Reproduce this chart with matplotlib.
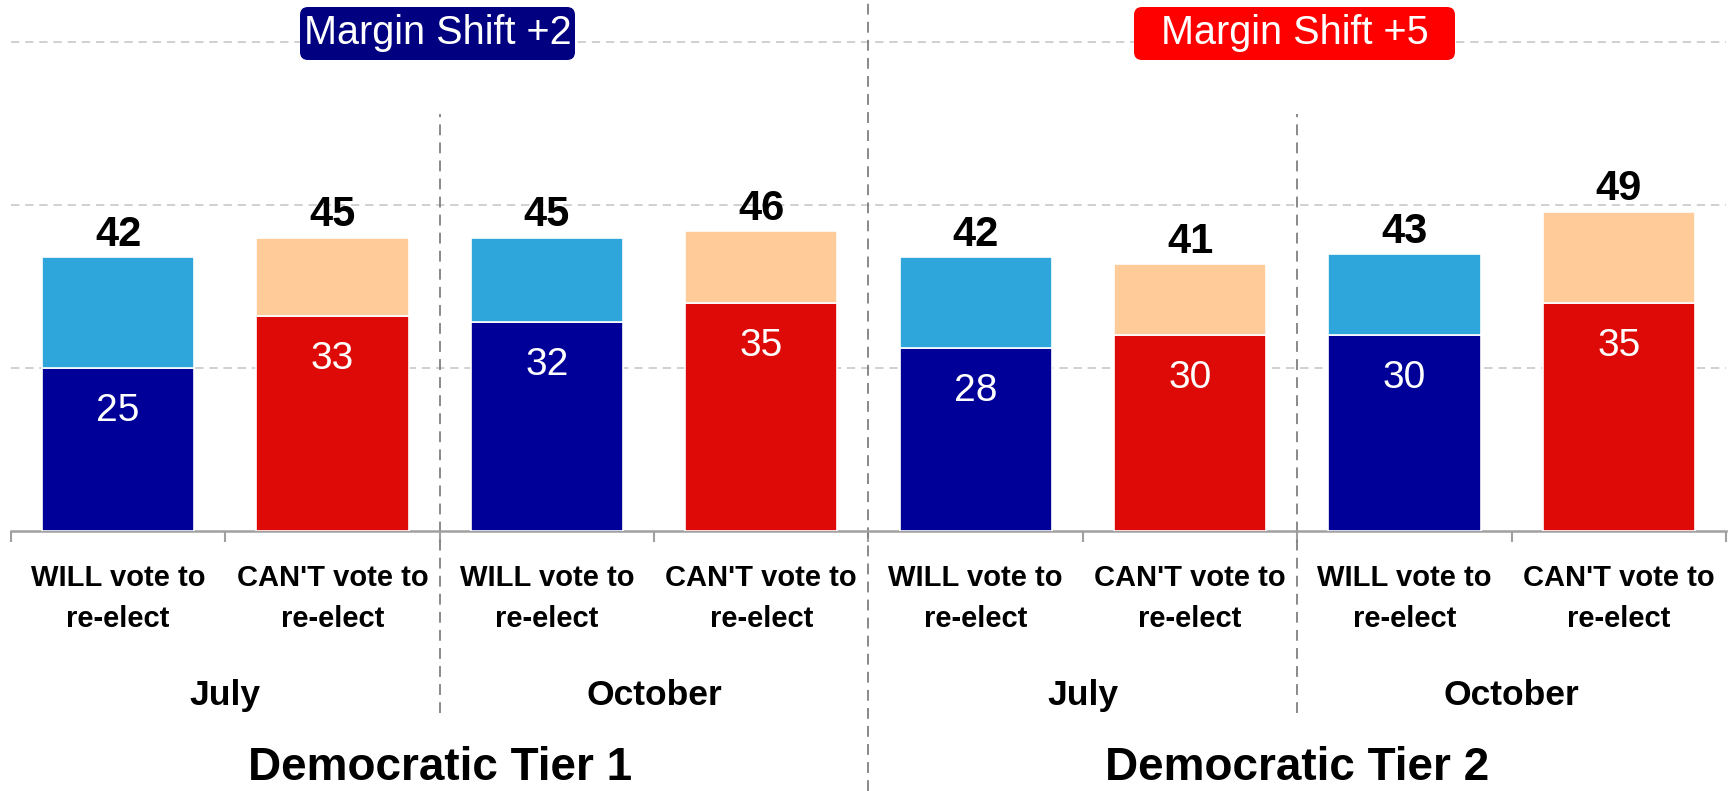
import matplotlib
matplotlib.use("Agg")
import matplotlib.pyplot as plt
from matplotlib.patches import FancyBboxPatch
from matplotlib.transforms import blended_transform_factory

plt.rcParams['font.family'] = ['Liberation Sans', 'DejaVu Sans']

# ---- data ----
categories = ["WILL vote to\nre-elect", "CAN'T vote to\nre-elect"] * 4
months = ["July", "October", "July", "October"]
groups = ["Democratic Tier 1", "Democratic Tier 2"]
strong = [25, 33, 32, 35, 28, 30, 30, 35]
total = [42, 45, 45, 46, 42, 41, 42.5, 49]
margin_labels = ["Margin Shift +2", "Margin Shift +5"]

# ---- styles ----
dark = ["#000099", "#DD0A08"]
light = ["#2EA6DC", "#FECB99"]
box_colors = ["#000080", "#FF0000"]

fig = plt.figure(figsize=(17.33, 7.91), dpi=100)
ax = fig.add_axes([11 / 1733, 260 / 791, 1715 / 1733, 531 / 791])

x = list(range(len(categories)))
bottom_colors = [dark[i % 2] for i in x]
top_colors = [light[i % 2] for i in x]
rest = [t - s for t, s in zip(total, strong)]

ax.bar(x, strong, width=0.71, color=bottom_colors, edgecolor="white", linewidth=1.2, zorder=3)
ax.bar(x, rest, bottom=strong, width=0.71, color=top_colors, edgecolor="white", linewidth=1.2, zorder=3)

for xi, s, t in zip(x, strong, total):
    ax.annotate(str(int(t + 0.5)), (xi, t), xytext=(0, 8), textcoords="offset points",
                ha="center", va="baseline", fontsize=30, fontweight="bold", color="black", zorder=5)
    ax.annotate(str(s), (xi, s), xytext=(0, -38), textcoords="offset points",
                ha="center", va="baseline", fontsize=28, color="white", zorder=5)

ax.set_xlim(-0.5, len(categories) - 0.5)
ax.set_ylim(0, 81.44)

# gridlines
ax.set_yticks([25, 50, 75])
ax.set_yticklabels([])
ax.tick_params(axis="y", length=0)
ax.yaxis.grid(True, color="#C8C8C8", linestyle=(0, (5, 3.5)), linewidth=1.2, zorder=0)
ax.set_axisbelow(True)

for sp in ["left", "right", "top"]:
    ax.spines[sp].set_visible(False)
ax.spines["bottom"].set_color("#A0A0A0")
ax.spines["bottom"].set_linewidth(1.8)

# ticks at boundaries, labels at centers
ax.set_xticks([i - 0.5 for i in range(len(categories) + 1)])
ax.set_xticklabels([])
ax.tick_params(axis="x", which="major", length=8, width=1.5, color="#A0A0A0", direction="out")
ax.set_xticks(x, minor=True)
ax.set_xticklabels(categories, minor=True, fontsize=21, fontweight="bold", linespacing=1.58)
ax.tick_params(axis="x", which="minor", length=0, pad=24)

trans = blended_transform_factory(ax.transData, fig.transFigure)

# month labels
for i, m in enumerate(months):
    ax.text(2 * i + 0.5, 1 - 705 / 791, m, transform=trans, ha="center", va="baseline",
            fontsize=25.5, fontweight="bold")

# group labels
for i, g in enumerate(groups):
    ax.text(4 * i + 1.5, 1 / 791, g, transform=trans, ha="center", va="bottom",
            fontsize=33, fontweight="bold")

# separators
ax.plot([3.5, 3.5], [0, 1], transform=trans, color="#808080", linestyle=(0, (6, 4)),
        linewidth=1.3, clip_on=False, zorder=1)
for xs in [1.5, 5.5]:
    ax.plot([xs, xs], [1 - 713 / 791, 1 - 114 / 791], transform=trans, color="#808080",
            linestyle=(0, (6, 4)), linewidth=1.3, clip_on=False, zorder=1)

# margin shift boxes (inches)
boxes = [(3.00, 5.75), (11.34, 14.55)]
for (x0, x1), lab, c in zip(boxes, margin_labels, box_colors):
    patch = FancyBboxPatch((x0, 7.31), x1 - x0, 0.53,
                           boxstyle="round,pad=0,rounding_size=0.08",
                           transform=fig.dpi_scale_trans, facecolor=c, edgecolor="none",
                           zorder=6, clip_on=False)
    fig.patches.append(patch)
    fig.text((x0 + x1) / 2 / 17.33, 1 - 33 / 791, lab, ha="center", va="center",
             fontsize=28.5, color="white", zorder=7)

fig.savefig("out.png", dpi=100)
